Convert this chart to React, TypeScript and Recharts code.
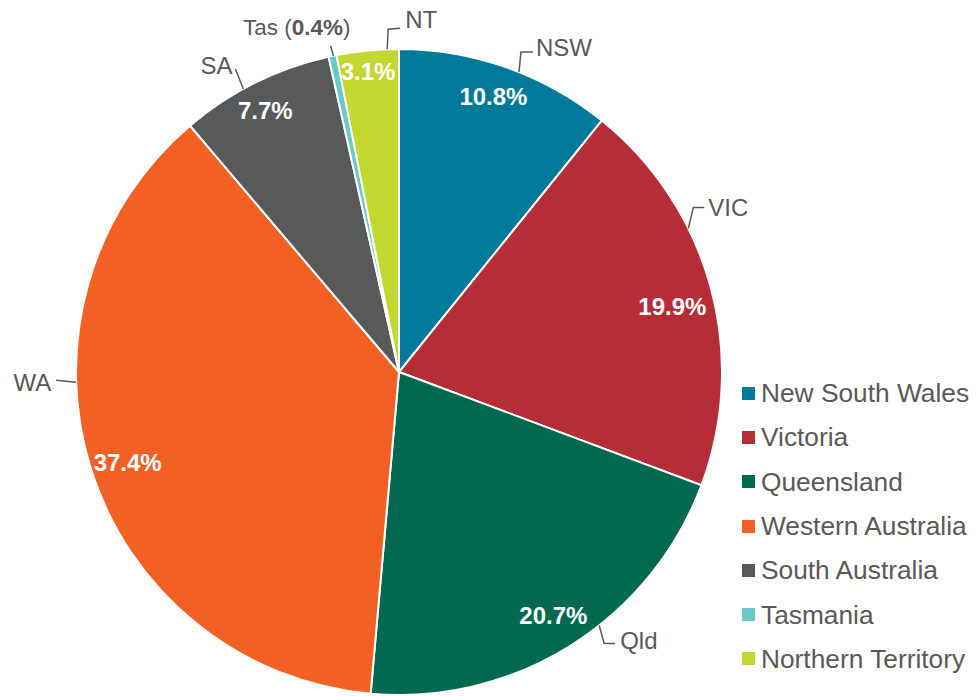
import React from 'react';
import { PieChart, Pie, Cell, Legend } from 'recharts';

const REGIONS = ['NSW', 'VIC', 'Qld', 'WA', 'SA', 'Tas', 'NT'];
const REGION_NAMES = [
  'New South Wales',
  'Victoria',
  'Queensland',
  'Western Australia',
  'South Australia',
  'Tasmania',
  'Northern Territory',
];
const SHARES = [10.8, 19.9, 20.7, 37.4, 7.7, 0.4, 3.1];
const COLORS = ['#007A9A', '#B52D37', '#006950', '#F26123', '#58595B', '#6CC8C7', '#C2D72F'];

const data = REGIONS.map((r, i) => ({ short: r, name: REGION_NAMES[i], value: SHARES[i] }));

// label placement styling (angles in degrees on the pie edge, offsets in px)
const LABEL_LAYOUT: Record<string, any> = {
  NSW: { angle: 68.2, pts: [[2, -20], [14, -20]], text: [17, -25], anchor: 'start', pct: [0.5, 32] },
  VIC: { angle: 26.4, pts: [[5, -21], [16, -21]], text: [20, -21], anchor: 'start', pct: [-1.9, 42] },
  Qld: { angle: -51.7, pts: [[5, 18], [16, 18]], text: [21, 15], anchor: 'start', pct: [0.2, 35] },
  WA: { angle: 181.8, pts: [[-20, -2]], text: [-25, 0], anchor: 'end', pct: [0.8, 37] },
  SA: { angle: 118.8, pts: [[-8, -20]], text: [-11, -23], anchor: 'end', pct: [0.6, 29] },
  Tas: { angle: 101.7, pts: [[-3, -10]], text: [17, -29], anchor: 'end', pct: [0, 30], size: 22.5 },
  NT: { angle: 92.1, pts: [[1, -20], [13, -21]], text: [18, -30], anchor: 'start', pct: [0.3, 21] },
};

const RAD = Math.PI / 180;
const FONT = '"Liberation Sans", Arial, sans-serif';
const GREY = '#595959';

const renderLabel = (props: any) => {
  const { cx, cy, midAngle, outerRadius, index, value } = props;
  const short = REGIONS[index];
  const lay = LABEL_LAYOUT[short];
  const pa = midAngle + lay.pct[0];
  const pr = outerRadius - lay.pct[1];
  const px = cx + pr * Math.cos(-pa * RAD);
  const py = cy + pr * Math.sin(-pa * RAD);
  const ax = cx + outerRadius * Math.cos(-lay.angle * RAD);
  const ay = cy + outerRadius * Math.sin(-lay.angle * RAD);
  const path = [`M${ax},${ay}`, ...lay.pts.map((p: number[]) => `L${ax + p[0]},${ay + p[1]}`)].join(' ');
  const isTas = short === 'Tas';
  return (
    <g key={`lbl-${index}`}>
      {!isTas && (
        <text
          x={px}
          y={py}
          fill="#FFFFFF"
          fontFamily={FONT}
          fontSize={24}
          fontWeight="bold"
          textAnchor="middle"
          dominantBaseline="central"
        >
          {`${Number(value).toFixed(1)}%`}
        </text>
      )}
      <path d={path} stroke={GREY} strokeWidth={1.5} fill="none" />
      <text
        x={ax + lay.text[0]}
        y={ay + lay.text[1]}
        fill={GREY}
        fontFamily={FONT}
        fontSize={lay.size || 24}
        textAnchor={lay.anchor}
        dominantBaseline="central"
      >
        {isTas ? (
          <>
            <tspan>Tas (</tspan>
            <tspan fontWeight="bold">{`${Number(value).toFixed(1)}%`}</tspan>
            <tspan>)</tspan>
          </>
        ) : (
          short
        )}
      </text>
    </g>
  );
};

const renderLegend = () => (
  <div style={{ fontFamily: FONT }}>
    {data.map((d, i) => (
      <div
        key={d.name}
        style={{ display: 'flex', alignItems: 'center', height: 44.3, whiteSpace: 'nowrap' }}
      >
        <span
          style={{ display: 'inline-block', width: 13, height: 13, background: COLORS[i], marginRight: 6 }}
        />
        <span style={{ fontSize: 26.3, color: GREY, lineHeight: '30px' }}>{d.name}</span>
      </div>
    ))}
  </div>
);

export default function App() {
  return (
    <div style={{ position: 'absolute', left: 0, top: 0, width: 976, height: 696, background: '#fff' }}>
      <PieChart width={976} height={696} margin={{ top: 0, right: 0, bottom: 0, left: 0 }}>
        <Pie
          data={data}
          dataKey="value"
          nameKey="name"
          cx={399}
          cy={372}
          outerRadius={323}
          startAngle={90}
          endAngle={-270}
          stroke="#FFFFFF"
          strokeWidth={2}
          label={renderLabel}
          labelLine={false}
          isAnimationActive={false}
        >
          {data.map((d, i) => (
            <Cell key={d.short} fill={COLORS[i]} />
          ))}
        </Pie>
        <Legend
          content={renderLegend}
          wrapperStyle={{ position: 'absolute', left: 742, top: 371, width: 234 }}
        />
      </PieChart>
    </div>
  );
}
